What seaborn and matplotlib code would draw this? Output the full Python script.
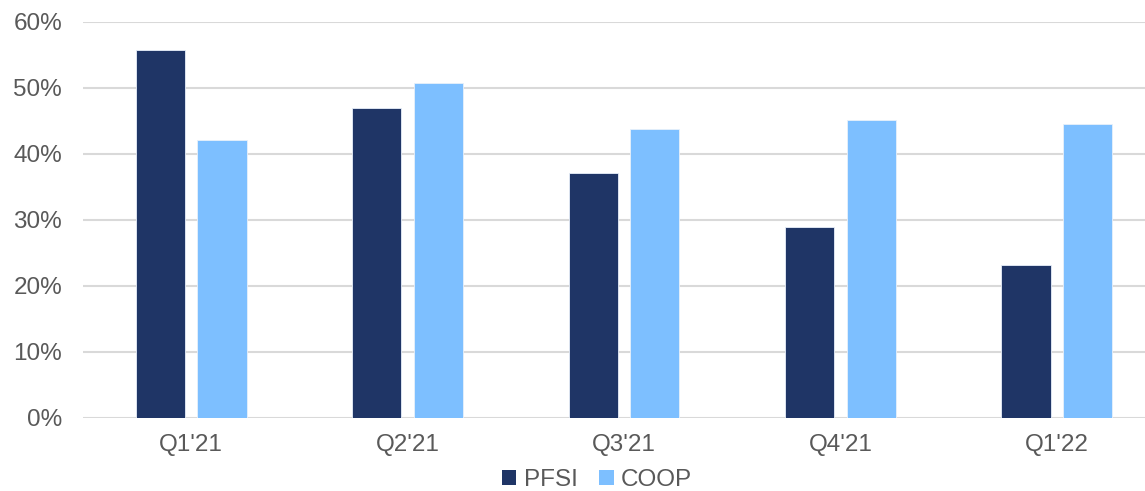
import matplotlib
matplotlib.use("Agg")
import matplotlib.pyplot as plt
import seaborn as sns
import pandas as pd
from matplotlib.patches import Patch
from matplotlib.ticker import FuncFormatter

quarters = ["Q1'21", "Q2'21", "Q3'21", "Q4'21", "Q1'22"]
pfsi = [55.7, 47.0, 37.1, 28.9, 23.1]
coop = [42.1, 50.7, 43.7, 45.2, 44.5]
series = ["PFSI", "COOP"]
colors = ["#1F3566", "#7DBFFF"]

df = pd.DataFrame({
    "quarter": quarters * 2,
    "share": pfsi + coop,
    "company": ["PFSI"] * len(quarters) + ["COOP"] * len(quarters),
})

sns.set_theme(style="white")
plt.rcParams["font.family"] = ["Liberation Sans", "DejaVu Sans"]

fig = plt.figure(figsize=(11.45, 4.91), dpi=100)
ax = fig.add_axes([83 / 1145, (491 - 417.7) / 491, 1082 / 1145, (417.7 - 22) / 491])

sns.barplot(data=df, x="quarter", y="share", hue="company", order=quarters,
            hue_order=series, palette=colors, saturation=1, width=0.568, gap=0.2,
            edgecolor="#E8F0FA", linewidth=0.6, legend=False, ax=ax)

ax.set_ylim(0, 60)
ax.set_xlim(-0.5, len(quarters) - 0.5)
ax.set_yticks(range(0, 61, 10))
ax.yaxis.set_major_formatter(FuncFormatter(lambda v, _: f"{v:.0f}%"))
ax.grid(axis="y", color="#D9D9D9", linewidth=1.5)
ax.set_axisbelow(True)
for s in ax.spines.values():
    s.set_visible(False)
ax.set_xlabel("")
ax.set_ylabel("")
ax.tick_params(axis="y", length=0, pad=15, labelsize=17.5, labelcolor="#595959")
ax.tick_params(axis="x", length=0, pad=12, labelsize=17.5, labelcolor="#595959")

handles = [Patch(facecolor=c, edgecolor="none") for c in colors]
fig.legend(handles, series, loc="center", bbox_to_anchor=(597 / 1145, 11 / 491),
           ncol=2, frameon=False, fontsize=17.5, handlelength=0.6, handleheight=0.6,
           handletextpad=0.3, columnspacing=0.9, labelcolor="#595959")

fig.savefig("out.png", dpi=100, facecolor="white")
